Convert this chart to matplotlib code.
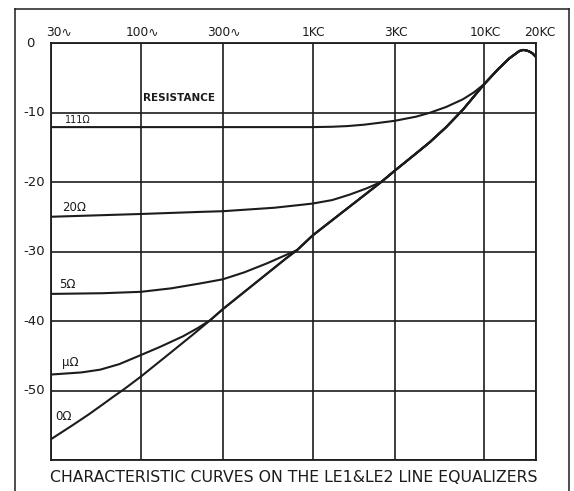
import matplotlib
matplotlib.use("Agg")
import matplotlib.pyplot as plt
from matplotlib.lines import Line2D
import matplotlib.transforms as mtransforms

# Response of the zero-resistance setting over the whole band (Hz, dB)
freq_0 = [30, 40, 50, 60, 70, 80, 100, 150, 200, 253, 300, 500, 700, 812, 1000,
          1500, 2000, 2540, 3000, 4000, 4800, 6000, 7500, 10000, 12000, 14000,
          15500, 16000, 16800, 17500, 18200, 19000, 20000]
db_0 = [-57.0, -55.0, -53.4, -52.0, -50.8, -49.8, -48.0, -44.5, -42.0, -39.9, -38.3,
        -33.9, -31.0, -29.8, -27.7, -24.3, -21.9, -19.9, -18.4, -15.9, -14.3,
        -12.1, -9.6, -5.9, -3.8, -2.2, -1.4, -1.15, -1.0, -1.05, -1.2, -1.45, -2.0]

# Low-frequency branches of the other settings, up to where they join the 0 ohm curve
freq_1 = [30, 45, 58, 75, 100, 130, 176, 215, 253]
db_1 = [-47.7, -47.4, -47.0, -46.2, -44.9, -43.7, -42.2, -41.0, -39.9]

freq_5 = [30, 60, 100, 150, 221, 300, 400, 543, 700, 812]
db_5 = [-36.1, -36.0, -35.8, -35.3, -34.6, -34.0, -33.0, -31.7, -30.5, -29.8]

freq_20 = [30, 100, 221, 300, 600, 846, 1000, 1300, 1650, 2070, 2300, 2540]
db_20 = [-25.0, -24.6, -24.3, -24.2, -23.7, -23.3, -23.1, -22.6, -21.8, -20.9, -20.4, -19.9]

freq_111 = [30, 100, 300, 1000, 1300, 1600, 2000, 2500, 3000, 4000, 4800, 6000,
            7500, 8700, 10000]
db_111 = [-12.1, -12.1, -12.1, -12.1, -12.05, -11.95, -11.75, -11.45, -11.2, -10.6,
          -10.05, -9.2, -8.1, -7.1, -5.9]

# Axis annotations
freq_ticks = [30, 100, 300, 1000, 3000, 10000, 20000]
freq_labels = ["30\u223f", "100\u223f", "300\u223f", "1KC", "3KC", "10KC", "20KC"]
db_ticks = [0, -10, -20, -30, -40, -50]
db_labels = ["0", "-10", "-20", "-30", "-40", "-50"]

curve_labels = ["111\u03a9", "20\u03a9", "5\u03a9", "\u03bc\u03a9", "0\u03a9"]
curve_label_freq = [36.2, 34.8, 33.4, 34.8, 31.6]
curve_label_db = [-11.1, -23.6, -34.7, -45.9, -53.8]

title = "CHARACTERISTIC CURVES ON THE LE1&LE2 LINE EQUALIZERS"
ink = "#1c1c1c"

plt.rcParams["font.family"] = ["DejaVu Sans"]

fig = plt.figure(figsize=(5.74, 4.91), dpi=100, facecolor="white")
ax = fig.add_axes([0.0889, 0.0631, 0.8449, 0.8493])
ax.set_xscale("log")
ax.set_xlim(30, 20000)
ax.set_ylim(-60, 0)

ax.set_xticks(freq_ticks)
ax.set_yticks(db_ticks + [-60])
ax.xaxis.set_minor_locator(matplotlib.ticker.NullLocator())
ax.tick_params(length=0, labelbottom=False, labelleft=False)
ax.grid(True, color=ink, lw=1.2)
for s in ax.spines.values():
    s.set_color(ink)
    s.set_linewidth(1.3)


def joined(fb, db):
    """Branch points followed by the shared 0 ohm tail above the join."""
    f_end = fb[-1]
    tail = [(f, d) for f, d in zip(freq_0, db_0) if f > f_end]
    return fb + [t[0] for t in tail], db + [t[1] for t in tail]


ax.plot(freq_0, db_0, color=ink, lw=1.5, solid_capstyle="round")
for fb, dbb in [(freq_1, db_1), (freq_5, db_5), (freq_20, db_20), (freq_111, db_111)]:
    fx, dy = joined(fb, dbb)
    ax.plot(fx, dy, color=ink, lw=1.5)

# Frequency labels along the top edge
x_shift = {0: 6, 6: 3}
for i, (f, lab) in enumerate(zip(freq_ticks, freq_labels)):
    ax.annotate(lab, (f, 0), xytext=(x_shift.get(i, 1), 3), textcoords="offset points",
                ha="center", va="bottom", fontsize=8.8, color=ink)

# dB labels along the left edge
ytrans = mtransforms.blended_transform_factory(ax.transAxes, ax.transData)
for v, lab in zip(db_ticks, db_labels):
    xa = -0.043 if v == 0 else -0.035
    ax.text(xa, v, lab, transform=ytrans, ha="center", va="center",
            fontsize=9.5, color=ink)

# Curve labels
for lab, f, d in zip(curve_labels, curve_label_freq, curve_label_db):
    fs = 7 if lab.startswith("111") else 8.5
    ax.text(f, d, lab, ha="left", va="center", fontsize=fs, color=ink)
ax.text(103, -7.9, "RESISTANCE", ha="left", va="center", fontsize=7.5,
        fontweight="bold", color=ink)

fig.text(0.5 * (50 + 537) / 574, 1 - 477 / 491, title, ha="center", va="center",
         fontsize=11.3, color=ink)

# Outer border of the plate
W, H = 574, 491
frame = [((15, 15), (9, H)), ((569, 569), (9, H)), ((15, 569), (9, 9))]
for xs, ys in frame:
    fig.add_artist(Line2D([x / W for x in xs], [1 - y / H for y in ys],
                          transform=fig.transFigure, color=ink, lw=1.1))

fig.savefig("out.png", dpi=100, facecolor="white")
